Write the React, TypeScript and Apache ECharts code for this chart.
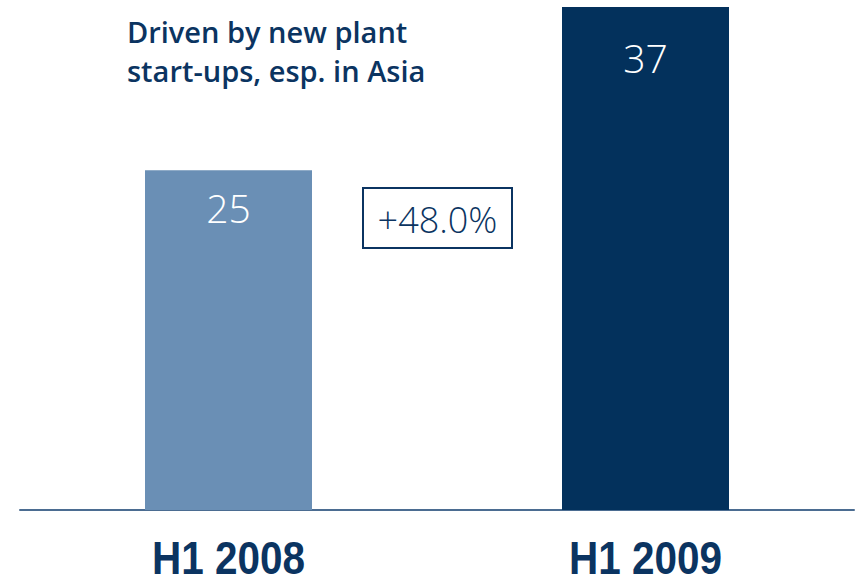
import React, { useEffect, useRef } from "react";
import * as echarts from "echarts";

const categories = ["H1 2008", "H1 2009"];
const values = [25, 37];
const barColors = ["#6a8fb5", "#03315c"];
const labelDistances = [18, 31];
const titleLines = ["Driven by new plant", "start-ups, esp. in Asia"];
const changeLabel = "+48.0%";

export default function App() {
  const ref = useRef<HTMLDivElement>(null);
  useEffect(() => {
    if (!ref.current) return;
    const chart = echarts.init(ref.current, null, { renderer: "svg" });
    const dark = "#0b3461";
    chart.setOption({
      animation: false,
      grid: {
        left: 20,
        right: 3,
        top: 7,
        bottom: 72,
        containLabel: false,
        outerBoundsMode: "none",
      },
      xAxis: {
        type: "category",
        data: categories,
        axisLine: { show: true, lineStyle: { color: "#4b6c91", width: 2 } },
        axisTick: { show: false },
        axisLabel: { show: false },
      },
      yAxis: {
        type: "value",
        min: 0,
        max: 37,
        show: false,
        splitLine: { show: false },
      },
      series: [
        {
          type: "bar",
          barWidth: 167,
          data: values.map((v, i) => ({
            value: v,
            itemStyle: { color: barColors[i] },
            label: {
              show: true,
              position: "insideTop",
              distance: labelDistances[i],
              color: "#ffffff",
              fontSize: 39,
              fontFamily: "'Open Sans', sans-serif",
              fontWeight: 300,
            },
          })),
        },
      ],
    });

    const catLabels = categories.map((c, i) => {
      const px = chart.convertToPixel({ xAxisIndex: 0 }, c) as number;
      return {
        type: "text",
        id: "cat" + i,
        x: px,
        y: 558,
        scaleX: 0.88,
        style: {
          text: c,
          fontSize: 46,
          fontWeight: "bold",
          fontFamily: "'Liberation Sans', sans-serif",
          fill: dark,
          align: "center",
          verticalAlign: "middle",
        },
      };
    });

    chart.setOption({
      graphic: [
        {
          type: "text",
          id: "title",
          left: 127,
          top: 12,
          style: {
            text: titleLines.join("\n"),
            fontSize: 29,
            lineHeight: 39,
            fontWeight: 600,
            fontFamily: "'Open Sans', sans-serif",
            fill: dark,
          },
        },
        {
          type: "rect",
          id: "box",
          shape: { x: 363, y: 188, width: 149, height: 60 },
          style: { fill: "none", stroke: dark, lineWidth: 2 },
        },
        {
          type: "text",
          id: "change",
          x: 437.5,
          y: 219,
          style: {
            text: changeLabel,
            fontSize: 36,
            fontFamily: "'Open Sans', sans-serif",
            fontWeight: 300,
            fill: dark,
            align: "center",
            verticalAlign: "middle",
          },
        },
        ...catLabels,
      ],
    });
    return () => chart.dispose();
  }, []);
  return (
    <div
      ref={ref}
      style={{ position: "absolute", left: 0, top: 0, width: 857, height: 582 }}
    />
  );
}
